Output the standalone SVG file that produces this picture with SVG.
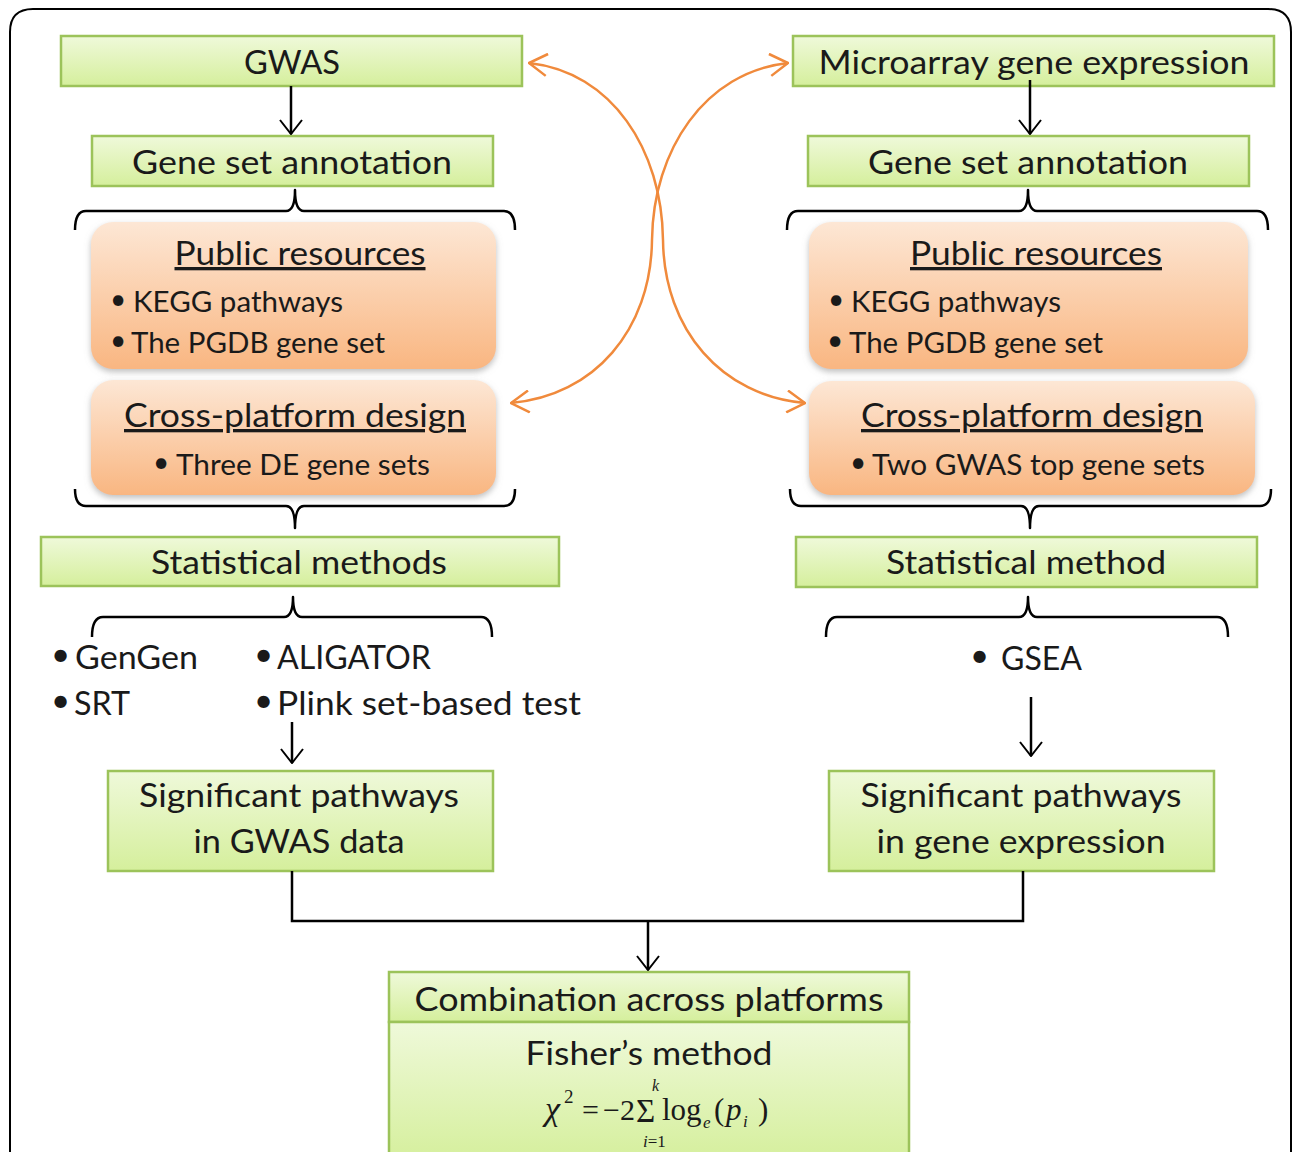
<svg xmlns="http://www.w3.org/2000/svg" width="1292" height="1152" viewBox="0 0 1292 1152">
  <defs>
    <linearGradient id="gGreen" x1="0" y1="0" x2="0" y2="1">
      <stop offset="0" stop-color="#eff9da"/>
      <stop offset="1" stop-color="#d5ef9c"/>
    </linearGradient>
    <linearGradient id="gOrange" x1="0" y1="0" x2="0" y2="1">
      <stop offset="0" stop-color="#fde7d5"/>
      <stop offset="1" stop-color="#f9b681"/>
    </linearGradient>
    <filter id="shadow" x="-5%" y="-5%" width="110%" height="120%">
      <feDropShadow dx="0" dy="3" stdDeviation="3" flood-color="#8a8a8a" flood-opacity="0.55"/>
    </filter>
    <marker id="ah" viewBox="0 0 16 24" refX="15" refY="12" markerWidth="16" markerHeight="24" markerUnits="userSpaceOnUse" orient="auto">
      <path d="M1,1 L15,12 L1,23" fill="none" stroke="#000" stroke-width="2"/>
    </marker>
    <marker id="ahO" viewBox="0 0 20 24" refX="19" refY="12" markerWidth="20" markerHeight="24" markerUnits="userSpaceOnUse" orient="auto-start-reverse">
      <path d="M1,1 L19,12 L1,23" fill="none" stroke="#f08a3c" stroke-width="2.5"/>
    </marker>
  </defs>
  <style>
    .box { fill: url(#gGreen); stroke: #9cc35a; stroke-width: 2.5; }
    .obox { fill: url(#gOrange); stroke: none; filter: url(#shadow); }
    .t { font-family: Lato, "Open Sans", sans-serif; fill: #1a1a1a; }
    .main { font-size: 33px; text-anchor: middle; }
    .title { font-size: 33px; text-anchor: middle; text-decoration: underline; }
    .sub { font-size: 28px; }
    .list { font-size: 33px; }
    .m { font-family: "Liberation Serif", "Times New Roman", serif; fill: #1a1a1a; }
    .ln { fill: none; stroke: #000; stroke-width: 2.5; }
    .br { fill: none; stroke: #000; stroke-width: 2.5; stroke-linejoin: round; }
    .cv { fill: none; stroke: #f08a3c; stroke-width: 2.5; }
  </style>

  <rect width="1292" height="1152" fill="#ffffff"/>
  <!-- page frame -->
  <path d="M10,1152 V32 Q10,9 33,9 H1268 Q1291,9 1291,32 V1152" fill="none" stroke="#000" stroke-width="2"/>

  <!-- GWAS column -->
  <g id="gwas">
    <rect class="box" x="61" y="36" width="461" height="50"/>
    <text class="t main" x="292" y="74" textLength="96" lengthAdjust="spacingAndGlyphs">GWAS</text>
  </g>
  <g id="gwas-annotation">
    <rect class="box" x="92" y="136" width="401" height="50"/>
    <text class="t main" x="292" y="174" textLength="320" lengthAdjust="spacingAndGlyphs">Gene set annotation</text>
  </g>
  <g id="gwas-public">
    <rect class="obox" x="91" y="222" width="405" height="147" rx="22"/>
    <text class="t title" x="300" y="265" textLength="251" lengthAdjust="spacingAndGlyphs">Public resources</text>
    <text class="t sub" x="110" y="309">•</text>
    <text class="t sub" x="133" y="312" textLength="210" lengthAdjust="spacingAndGlyphs">KEGG pathways</text>
    <text class="t sub" x="110" y="350">•</text>
    <text class="t sub" x="131" y="353" textLength="254" lengthAdjust="spacingAndGlyphs">The PGDB gene set</text>
  </g>
  <g id="gwas-cross">
    <rect class="obox" x="91" y="380" width="405" height="115" rx="22"/>
    <text class="t title" x="295" y="427" textLength="342" lengthAdjust="spacingAndGlyphs">Cross-platform design</text>
    <text class="t sub" x="153" y="472">•</text>
    <text class="t sub" x="176" y="475" textLength="254" lengthAdjust="spacingAndGlyphs">Three DE gene sets</text>
  </g>
  <g id="gwas-stat">
    <rect class="box" x="41" y="537" width="518" height="49"/>
    <text class="t main" x="299" y="574" textLength="296" lengthAdjust="spacingAndGlyphs">Statistical methods</text>
  </g>
  <g id="gwas-methods">
    <text class="t list" x="51" y="666">•</text>
    <text class="t list" x="75" y="669" textLength="123" lengthAdjust="spacingAndGlyphs">GenGen</text>
    <text class="t list" x="51" y="712">•</text>
    <text class="t list" x="74" y="715" textLength="56" lengthAdjust="spacingAndGlyphs">SRT</text>
    <text class="t list" x="254" y="666">•</text>
    <text class="t list" x="277" y="669" textLength="154" lengthAdjust="spacingAndGlyphs">ALIGATOR</text>
    <text class="t list" x="254" y="712">•</text>
    <text class="t list" x="277" y="715" textLength="304" lengthAdjust="spacingAndGlyphs">Plink set-based test</text>
  </g>
  <g id="gwas-significant">
    <rect class="box" x="108" y="771" width="385" height="100"/>
    <text class="t main" x="299" y="807" textLength="320" lengthAdjust="spacingAndGlyphs">Significant pathways</text>
    <text class="t main" x="299" y="853" textLength="211" lengthAdjust="spacingAndGlyphs">in GWAS data</text>
  </g>

  <!-- Expression column -->
  <g id="expression">
    <rect class="box" x="793" y="36" width="481" height="50"/>
    <text class="t main" x="1034" y="74" textLength="431" lengthAdjust="spacingAndGlyphs">Microarray gene expression</text>
  </g>
  <g id="expr-annotation">
    <rect class="box" x="808" y="136" width="441" height="50"/>
    <text class="t main" x="1028" y="174" textLength="320" lengthAdjust="spacingAndGlyphs">Gene set annotation</text>
  </g>
  <g id="expr-public">
    <rect class="obox" x="809" y="222" width="439" height="147" rx="22"/>
    <text class="t title" x="1036" y="265" textLength="252" lengthAdjust="spacingAndGlyphs">Public resources</text>
    <text class="t sub" x="828" y="309">•</text>
    <text class="t sub" x="851" y="312" textLength="210" lengthAdjust="spacingAndGlyphs">KEGG pathways</text>
    <text class="t sub" x="827" y="350">•</text>
    <text class="t sub" x="849" y="353" textLength="254" lengthAdjust="spacingAndGlyphs">The PGDB gene set</text>
  </g>
  <g id="expr-cross">
    <rect class="obox" x="809" y="381" width="446" height="114" rx="22"/>
    <text class="t title" x="1032" y="427" textLength="342" lengthAdjust="spacingAndGlyphs">Cross-platform design</text>
    <text class="t sub" x="850" y="472">•</text>
    <text class="t sub" x="872" y="475" textLength="333" lengthAdjust="spacingAndGlyphs">Two GWAS top gene sets</text>
  </g>
  <g id="expr-stat">
    <rect class="box" x="796" y="537" width="461" height="50"/>
    <text class="t main" x="1026" y="574" textLength="280" lengthAdjust="spacingAndGlyphs">Statistical method</text>
  </g>
  <g id="expr-methods">
    <text class="t list" x="970" y="667">•</text>
    <text class="t list" x="1001" y="670" textLength="81" lengthAdjust="spacingAndGlyphs">GSEA</text>
  </g>
  <g id="expr-significant">
    <rect class="box" x="829" y="771" width="385" height="100"/>
    <text class="t main" x="1021" y="807" textLength="321" lengthAdjust="spacingAndGlyphs">Significant pathways</text>
    <text class="t main" x="1021" y="853" textLength="289" lengthAdjust="spacingAndGlyphs">in gene expression</text>
  </g>

  <!-- Combined result with Fisher's formula -->
  <g id="combination">
    <rect class="box" x="389" y="972" width="520" height="50"/>
    <rect class="box" x="389" y="1022" width="520" height="140"/>
    <text class="t main" x="649" y="1011" textLength="469" lengthAdjust="spacingAndGlyphs">Combination across platforms</text>
    <text class="t main" x="649" y="1065" textLength="247" lengthAdjust="spacingAndGlyphs">Fisher’s method</text>
    <text class="m" x="545" y="1120" font-size="34" font-style="italic">χ</text>
    <text class="m" x="564" y="1103" font-size="19">2</text>
    <text class="m" x="582" y="1120" font-size="30">=</text>
    <text class="m" x="603" y="1120" font-size="30">−2</text>
    <text class="m" x="636" y="1122" font-size="33">Σ</text>
    <text class="m" x="652" y="1091" font-size="16" font-style="italic">k</text>
    <text class="m" x="643" y="1147" font-size="17"><tspan font-style="italic">i</tspan>=1</text>
    <text class="m" x="662" y="1120" font-size="31">log</text>
    <text class="m" x="703" y="1128" font-size="17" font-style="italic">e</text>
    <text class="m" x="714" y="1120" font-size="31">(</text>
    <text class="m" x="726" y="1120" font-size="31" font-style="italic">p</text>
    <text class="m" x="743" y="1127" font-size="17" font-style="italic">i</text>
    <text class="m" x="758" y="1120" font-size="31">)</text>
  </g>

  <!-- connectors -->
  <g id="connectors">
    <line class="ln" x1="291" y1="86" x2="291" y2="134" marker-end="url(#ah)"/>
    <line class="ln" x1="1030" y1="80" x2="1030" y2="134" marker-end="url(#ah)"/>

    <!-- braces grouping the annotation resources -->
    <path class="br" d="M75,230 Q75,211 86,211 H286 Q295,211 295,190 Q295,211 304,211 H504 Q515,211 515,230"/>
    <path class="br" d="M75,489 Q75,506 86,506 H286 Q295,506 295,528 Q295,506 304,506 H504 Q515,506 515,489"/>
    <path class="br" d="M787,230 Q787,211 798,211 H1019 Q1028,211 1028,190 Q1028,211 1037,211 H1257 Q1268,211 1268,230"/>
    <path class="br" d="M790,489 Q790,506 801,506 H1021 Q1030,506 1030,528 Q1030,506 1039,506 H1260 Q1271,506 1271,489"/>

    <!-- braces grouping the statistical methods -->
    <path class="br" d="M92,637 Q92,617 103,617 H284 Q293,617 293,597 Q293,617 302,617 H481 Q492,617 492,637"/>
    <path class="br" d="M826,637 Q826,617 837,617 H1019 Q1028,617 1028,597 Q1028,617 1037,617 H1217 Q1228,617 1228,637"/>

    <line class="ln" x1="292" y1="722" x2="292" y2="763" marker-end="url(#ah)"/>
    <line class="ln" x1="1031" y1="697" x2="1031" y2="756" marker-end="url(#ah)"/>

    <!-- merge of both result sets -->
    <path class="ln" d="M292,871 V921 H1023 V871" stroke-width="3"/>
    <line class="ln" x1="648" y1="921" x2="648" y2="970" marker-end="url(#ah)"/>

    <!-- cross-platform exchange curves -->
    <path class="cv" d="M529,63 C612,72 662,150 663,240 C664,330 722,396 805,403" marker-start="url(#ahO)" marker-end="url(#ahO)"/>
    <path class="cv" d="M788,63 C705,72 653,150 652,240 C651,330 594,396 511,403" marker-start="url(#ahO)" marker-end="url(#ahO)"/>
  </g>
</svg>
